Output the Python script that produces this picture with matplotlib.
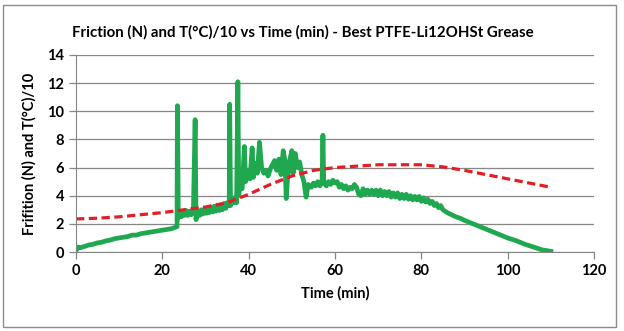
import matplotlib
matplotlib.use("Agg")
import matplotlib.pyplot as plt
from matplotlib.patches import Rectangle

# friction trace (N), as (time, friction) pairs per stretch
ramp = [(0, 0.1), (0.5, 0.35), (1, 0.3), (2, 0.4), (3, 0.5), (4, 0.55), (5, 0.65), (6, 0.7),
        (7, 0.8), (8, 0.85), (9, 0.95), (10, 1.0), (11, 1.05), (12, 1.1), (13, 1.2),
        (14, 1.2), (15, 1.3), (16, 1.35), (17, 1.4), (18, 1.45), (19, 1.5), (20, 1.55),
        (21, 1.6), (22, 1.65), (23, 1.75), (23.4, 1.8)]
spikes = [(23.5, 10.4), (23.7, 2.4), (24, 2.8), (24.4, 2.5), (24.8, 2.9), (25.2, 2.6),
          (25.5, 2.95), (25.9, 2.6), (26.3, 2.9), (26.7, 2.65), (27.2, 3.0), (27.6, 9.4),
          (27.8, 2.3), (28.3, 2.9), (28.7, 2.6), (29, 3.0), (29.4, 2.7), (29.8, 3.1),
          (30.2, 2.75), (30.5, 3.15), (30.9, 2.8), (31.3, 3.2), (31.7, 2.85), (32, 3.25),
          (32.4, 2.9), (32.8, 3.3), (33.2, 2.95), (33.5, 3.35), (33.9, 3.0), (34.3, 3.45),
          (34.7, 3.1), (35, 3.5), (35.5, 3.3), (35.6, 10.5), (35.8, 3.3), (36.2, 3.8),
          (36.5, 3.5), (36.9, 3.9), (37.2, 3.5), (37.5, 12.1), (37.7, 4.0)]
peaks = [(38, 4.8), (38.5, 4.5), (39, 7.5), (39.3, 5.0), (39.8, 5.8), (40.3, 5.2),
         (40.8, 7.4), (41.1, 5.3), (41.6, 6.3), (42, 5.6), (42.5, 7.8), (43, 6.0),
         (43.5, 5.6), (44, 5.8), (44.5, 5.4), (45, 5.9), (45.5, 6.2), (46, 6.5), (46.5, 5.8),
         (47, 6.6), (47.5, 5.5), (48, 7.2), (48.4, 6.5), (48.7, 3.8), (49, 5.2), (49.5, 6.5),
         (50, 7.2), (50.3, 5.6), (50.8, 7.0), (51.3, 6.0), (51.8, 6.4), (52.3, 5.5),
         (52.8, 5.0), (53.3, 3.9), (53.8, 4.8), (54.5, 4.6), (55, 4.9), (55.5, 4.7),
         (56, 5.0), (56.5, 4.7), (57, 5.0), (57.2, 8.3), (57.4, 4.9)]
decline = [(58, 4.7), (58.5, 5.0), (59, 4.8), (59.5, 5.1), (60, 4.9), (60.5, 5.0), (61, 4.6),
           (61.5, 4.8), (62, 4.5), (62.5, 4.7), (63, 4.4), (63.5, 4.6), (64, 4.5),
           (64.5, 4.8), (65, 4.6), (65.5, 4.1), (66, 4.0), (66.5, 4.5), (67, 4.1),
           (67.5, 4.4), (68, 4.1), (68.5, 4.4), (69, 4.1), (69.5, 4.4), (70, 4.0),
           (70.5, 4.4), (71, 4.0), (71.5, 4.3), (72, 4.0), (72.5, 4.3), (73, 3.9),
           (73.5, 4.2), (74, 3.9), (74.5, 4.2), (75, 3.8), (75.5, 4.1), (76, 3.8),
           (76.5, 4.1), (77, 3.75), (77.5, 4.0), (78, 3.7), (78.5, 3.95), (79, 3.7),
           (79.5, 3.95), (80, 3.6), (80.5, 3.85), (81, 3.55), (81.5, 3.75), (82, 3.45),
           (82.5, 3.6), (83, 3.3), (83.5, 3.45), (84, 3.15), (84.5, 3.3), (85, 3.0),
           (86, 2.8), (87, 2.65), (88, 2.5), (89, 2.4), (90, 2.25), (92, 2.0), (94, 1.75),
           (96, 1.5), (98, 1.25), (100, 1.0), (102, 0.8), (104, 0.55), (106, 0.35),
           (108, 0.15), (110, 0.05)]

# temperature / 10
time_t = [0, 5, 10, 15, 20, 25, 30, 35, 40, 45, 50, 55, 60, 65, 70, 75, 80, 85, 90, 95,
          100, 105, 110]
temp = [2.35, 2.4, 2.5, 2.65, 2.8, 3.0, 3.2, 3.5, 4.1, 4.8, 5.4, 5.8, 6.0, 6.1, 6.2, 6.2,
        6.2, 6.05, 5.8, 5.5, 5.2, 4.9, 4.6]

time_f, friction = zip(*(ramp + spikes + peaks + decline))

plt.rcParams['font.family'] = ['Lato', 'DejaVu Sans']
plt.rcParams['font.weight'] = 'bold'

fig = plt.figure(figsize=(6.24, 3.31), dpi=100)
ax = fig.add_axes([76 / 624, 1 - 252 / 331, 518 / 624, 197 / 331])

fig.patches.append(Rectangle((3 / 624, 1 - 327 / 331), 613 / 624, 322 / 331,
                             transform=fig.transFigure, fill=False,
                             edgecolor='#8c8c8c', linewidth=1))

ax.plot(time_f, friction, color='#20a850', linewidth=3.4, solid_joinstyle='round')
ax.plot(time_t, temp, color='#e41e26', linewidth=2.3, dashes=(2.6, 1.4))

ax.set_xlim(0, 120)
ax.set_ylim(0, 14)
ax.set_xticks(range(0, 121, 20))
ax.set_yticks(range(0, 15, 2))
ax.grid(axis='y', color='#868686', linewidth=0.9)
ax.set_axisbelow(True)
for s in ['top', 'right']:
    ax.spines[s].set_visible(False)
for s in ['left', 'bottom']:
    ax.spines[s].set_color('#868686')
ax.tick_params(colors='#868686', labelcolor='black', labelsize=10.5, length=5, width=0.9)
for lab in ax.get_xticklabels() + ax.get_yticklabels():
    lab.set_fontweight('bold')

ax.set_xlabel('Time (min)', fontsize=10.5, fontweight='bold', labelpad=6)
ax.set_ylabel('Frifition (N) and T(°C)/10', fontsize=10.5, fontweight='bold', labelpad=8)
fig.text(0.485, 1 - 32 / 331, 'Friction (N) and T(°C)/10 vs Time (min) - Best PTFE-Li12OHSt Grease',
         ha='center', va='center', fontsize=10.8, fontweight='bold')

fig.savefig('out.png', dpi=100)
